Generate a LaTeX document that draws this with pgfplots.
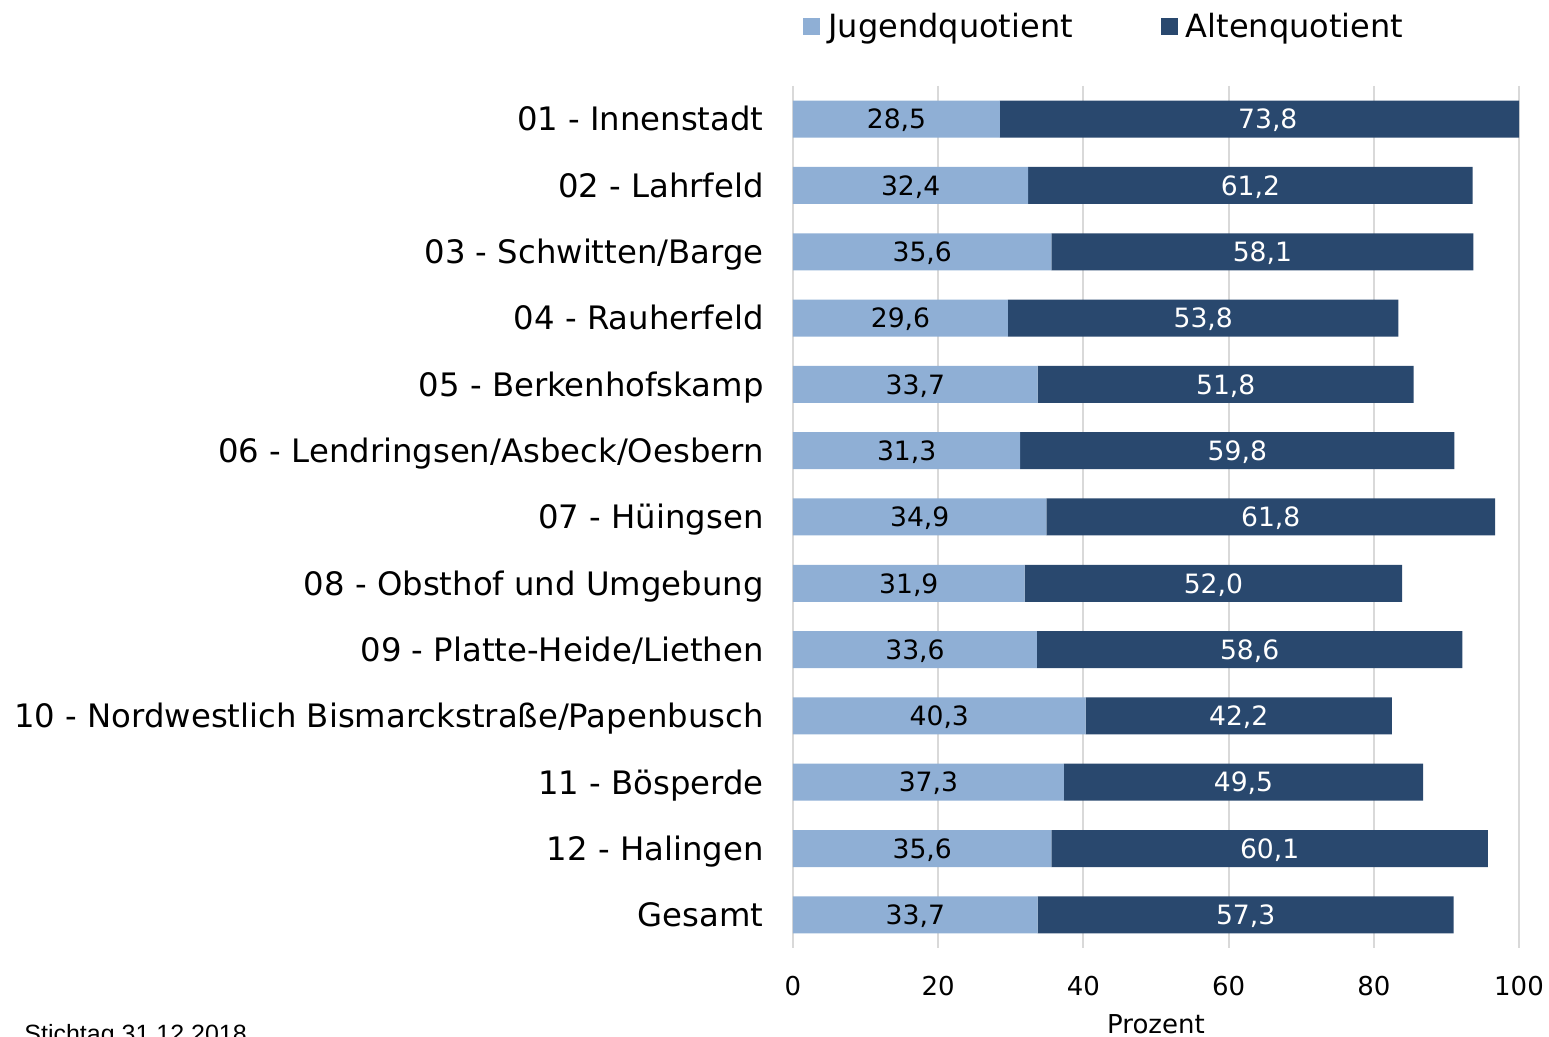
\documentclass[border=0pt]{standalone}
\usepackage{pgfplots}
\pgfplotsset{compat=1.18}
\usepackage{pgfplotstable}
\usepackage{fontspec}
\setmainfont{DejaVu Sans}
\newfontfamily\arialfont{Liberation Sans}
\definecolor{jung}{HTML}{8FAFD5}
\definecolor{alt}{HTML}{29486E}
\definecolor{gridc}{HTML}{D9D9D9}

\pgfplotstableread[col sep=semicolon]{
idx;name;J;A;Jl;Al
0;01 - Innenstadt;28.5;73.8;28,5;73,8
1;02 - Lahrfeld;32.4;61.2;32,4;61,2
2;03 - Schwitten/Barge;35.6;58.1;35,6;58,1
3;04 - Rauherfeld;29.6;53.8;29,6;53,8
4;05 - Berkenhofskamp;33.7;51.8;33,7;51,8
5;06 - Lendringsen/Asbeck/Oesbern;31.3;59.8;31,3;59,8
6;07 - Hüingsen;34.9;61.8;34,9;61,8
7;08 - Obsthof und Umgebung;31.9;52.0;31,9;52,0
8;09 - Platte-Heide/Liethen;33.6;58.6;33,6;58,6
9;10 - Nordwestlich Bismarckstraße/Papenbusch;40.3;42.2;40,3;42,2
10;11 - Bösperde;37.3;49.5;37,3;49,5
11;12 - Halingen;35.6;60.1;35,6;60,1
12;Gesamt;33.7;57.3;33,7;57,3
}\data

\pgfplotsset{
  common/.style={
    at={(396.5pt,44.5pt)}, anchor=south west,
    scale only axis, width=363pt, height=431pt,
    xmin=0, xmax=100, ymin=-0.5, ymax=12.5, y dir=reverse,
  }
}

\begin{document}
\begin{tikzpicture}
\useasboundingbox (0,0) rectangle (774.5pt,518.5pt);
\begin{axis}[common,
  xbar stacked, bar width=18.5pt,
  axis line style={draw=none},
  tick style={draw=none},
  major tick length=0pt,
  xmajorgrids, grid style={gridc, line width=1pt},
  xtick={0,20,...,100},
  ytick={0,...,12},
  yticklabels from table={\data}{name},
  yticklabel style={font=\fontsize{16.15}{19}\selectfont, anchor=base east, inner sep=0pt, xshift=-14.5pt, yshift=-5.9pt},
  xticklabel style={font=\fontsize{13}{15}\selectfont, anchor=base, inner sep=0pt, yshift=-23.5pt},
  /pgf/number format/assume math mode=true,
  xlabel={Prozent},
  xlabel style={at={(axis description cs:0.5,0)}, anchor=base, inner sep=0pt, yshift=-42.5pt, font=\fontsize{13}{15}\selectfont},
  legend columns=2,
  legend style={draw=none, fill=none, inner sep=0pt, at={(0,1)}, anchor=west, xshift=5pt, yshift=29.5pt,
    font=\fontsize{16}{18}\selectfont,
    /tikz/every even column/.append style={column sep=44pt},
    nodes={inner sep=0pt, outer sep=0pt}},
  legend image code/.code={\fill[#1] (0pt,-4.25pt) rectangle (8.5pt,4.25pt);},
]
\addplot[fill=jung, draw=none] table[x=J, y=idx]{\data};
\addlegendentry{\hspace{4pt}Jugendquotient}
\addplot[fill=alt, draw=none] table[x=A, y=idx]{\data};
\addlegendentry{\hspace{4pt}Altenquotient}
\end{axis}
\begin{axis}[common, hide axis, clip=false]
\addplot[draw=none, mark=none, nodes near coords, point meta=explicit symbolic,
  nodes near coords style={font=\fontsize{13.3}{15}\selectfont, text=black, anchor=base, inner sep=0pt, yshift=-4.85pt}]
  table[x expr=\thisrow{J}/2, y=idx, meta=Jl]{\data};
\addplot[draw=none, mark=none, nodes near coords, point meta=explicit symbolic,
  nodes near coords style={font=\fontsize{13.3}{15}\selectfont, text=white, anchor=base, inner sep=0pt, yshift=-4.85pt}]
  table[x expr=\thisrow{J}+\thisrow{A}/2, y=idx, meta=Al]{\data};
\end{axis}
\node[anchor=base west, inner sep=0pt, font=\arialfont\fontsize{12.5}{14}\selectfont] at (12pt,-3pt) {Stichtag 31.12.2018};
\end{tikzpicture}
\end{document}
